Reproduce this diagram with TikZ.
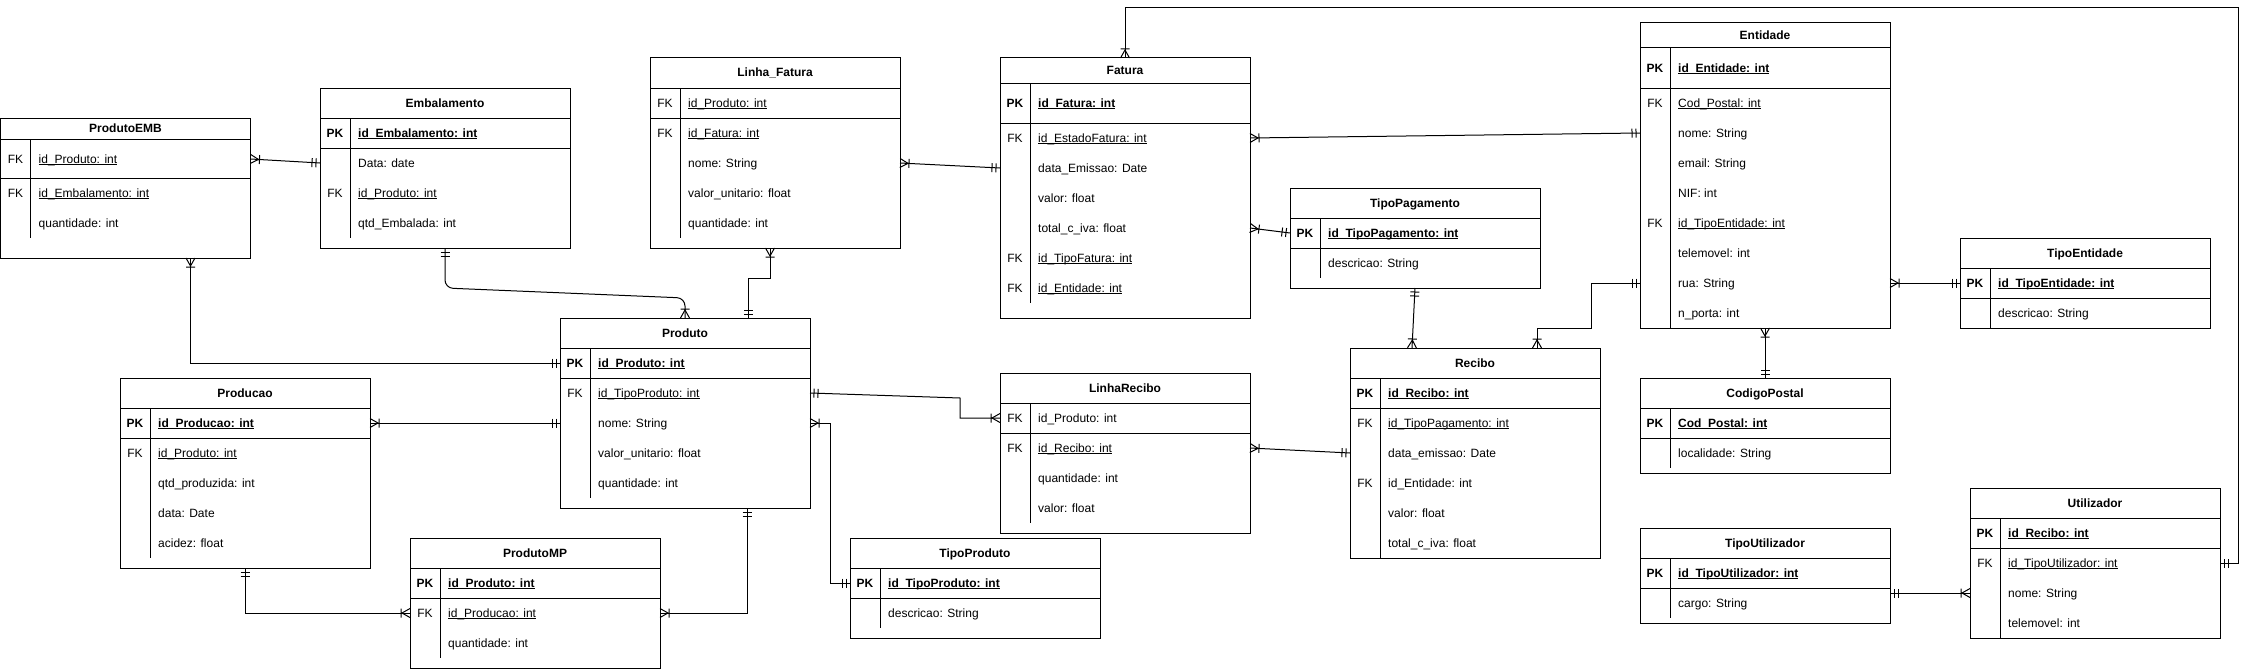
\documentclass[tikz,border=0pt]{standalone}
\usepackage{fontspec}
\setmainfont{Liberation Sans}
\usetikzlibrary{arrows.meta, calc}

% crow's foot notation
\pgfdeclarearrow{
  name = erone,
  setup code = {
    \pgfarrowssettipend{0pt}
    \pgfarrowssetlineend{0pt}
    \pgfarrowssetbackend{-9pt}
    \pgfarrowssetvisualbackend{-9pt}
    \pgfarrowshullpoint{0pt}{5pt}
    \pgfarrowshullpoint{0pt}{-5pt}
    \pgfarrowshullpoint{-9pt}{5pt}
    \pgfarrowshullpoint{-9pt}{-5pt}
  },
  drawing code = {
    \pgfpathmoveto{\pgfqpoint{-4pt}{4.5pt}}
    \pgfpathlineto{\pgfqpoint{-4pt}{-4.5pt}}
    \pgfpathmoveto{\pgfqpoint{-8pt}{4.5pt}}
    \pgfpathlineto{\pgfqpoint{-8pt}{-4.5pt}}
    \pgfusepathqstroke
  }
}
\pgfdeclarearrow{
  name = ermany,
  setup code = {
    \pgfarrowssettipend{0pt}
    \pgfarrowssetlineend{0pt}
    \pgfarrowssetbackend{-10pt}
    \pgfarrowssetvisualbackend{-10pt}
    \pgfarrowshullpoint{0pt}{5pt}
    \pgfarrowshullpoint{0pt}{-5pt}
    \pgfarrowshullpoint{-10pt}{5pt}
    \pgfarrowshullpoint{-10pt}{-5pt}
  },
  drawing code = {
    \pgfpathmoveto{\pgfqpoint{0pt}{4.5pt}}
    \pgfpathlineto{\pgfqpoint{-8pt}{0pt}}
    \pgfpathmoveto{\pgfqpoint{0pt}{-4.5pt}}
    \pgfpathlineto{\pgfqpoint{-8pt}{0pt}}
    \pgfpathmoveto{\pgfqpoint{-9pt}{4.5pt}}
    \pgfpathlineto{\pgfqpoint{-9pt}{-4.5pt}}
    \pgfusepathqstroke
  }
}

\tikzset{
  tbl/.style={draw, fill=white, line width=1pt, minimum width=250pt, anchor=north west, inner sep=0pt, outer sep=0pt},
  ttl/.style={font=\fontsize{12}{14}\selectfont\bfseries, text height=11pt, text depth=3pt, inner sep=0pt},
  keyc/.style={text height=11pt, text depth=3pt, inner sep=0pt},
  fld/.style={anchor=west, text height=11pt, text depth=3pt, inner xsep=8pt, inner ysep=0pt},
  rel/.style={line width=1pt},
}

\newsavebox{\ulbox}
\newcommand{\fkf}[1]{\sbox{\ulbox}{#1}\rlap{\rule[-1.8pt]{\wd\ulbox}{0.8pt}}\usebox{\ulbox}}
\newcommand{\pkf}[1]{\fkf{\bfseries #1}}
% name, x, y, height, title, title line, first row line, divider end, rows
\newcommand{\ertable}[9]{%
  \node[tbl, minimum height=#4pt] (#1) at (#2,#3) {};
  \node[ttl] at (#2+125,#3+#6/2) {#5};
  \draw[rel] (#2,#3+#6) -- ++(250,0) (#2,#3+#7) -- ++(250,0) (#2+30,#3+#6) -- (#2+30,#3+#8);
  \foreach \kk/\ff/\yy [count=\i] in {#9} {
    \node[keyc] at (#2+15,#3+\yy) {\kk};
    \node[fld] (#1-\i) at (#2+30,#3+\yy) {\ff};
  }%
}

\begin{document}
\begin{tikzpicture}[x=1pt, y=-1pt, font=\fontsize{12}{14}\selectfont]
\useasboundingbox (0,0) rectangle (2250,669);

\ertable{produtoemb}{0.5}{118}{140}{ProdutoEMB}{21}{60}{120}{FK/\fkf{id\_Produto: int}/41, FK/\fkf{id\_Embalamento: int}/75, /quantidade: int/105}
\ertable{embalamento}{320}{88}{160}{Embalamento}{30}{60}{150}{\textbf{PK}/\pkf{id\_Embalamento: int}/45, /Data: date/75, FK/\fkf{id\_Produto: int}/105, /qtd\_Embalada: int/135}
\ertable{linhafatura}{650}{58}{190}{Linha\_Fatura}{30}{60}{180}{FK/\fkf{id\_Produto: int}/45, FK/\fkf{id\_Fatura: int}/75, /nome: String/105, /valor\_unitario: float/135, /quantidade: int/165}
\ertable{fatura}{1000}{58}{260}{Fatura}{25}{65}{245}{\textbf{PK}/\pkf{id\_Fatura: int}/45, FK/\fkf{id\_EstadoFatura: int}/80, /data\_Emissao: Date/110, /valor: float/140, /total\_c\_iva: float/170, FK/\fkf{id\_TipoFatura: int}/200, FK/\fkf{id\_Entidade: int}/230}
\ertable{entidade}{1640}{23}{305}{Entidade}{25}{65}{305}{\textbf{PK}/\pkf{id\_Entidade: int}/45, FK/\fkf{Cod\_Postal: int}/80, /nome: String/110, /email: String/140, /NIF: int/170, FK/\fkf{id\_TipoEntidade: int}/200, /telemovel: int/230, /rua: String/260, /n\_porta: int/290}
\ertable{tipopagamento}{1290}{188}{100}{TipoPagamento}{30}{60}{90}{\textbf{PK}/\pkf{id\_TipoPagamento: int}/45, /descricao: String/75}
\ertable{tipoentidade}{1960}{238}{90}{TipoEntidade}{30}{60}{90}{\textbf{PK}/\pkf{id\_TipoEntidade: int}/45, /descricao: String/75}
\ertable{produto}{560}{318}{190}{Produto}{30}{60}{180}{\textbf{PK}/\pkf{id\_Produto: int}/45, FK/\fkf{id\_TipoProduto: int}/75, /nome: String/105, /valor\_unitario: float/135, /quantidade: int/165}
\ertable{producao}{120}{378}{190}{Producao}{30}{60}{180}{\textbf{PK}/\pkf{id\_Producao: int}/45, FK/\fkf{id\_Produto: int}/75, /qtd\_produzida: int/105, /data: Date/135, /acidez: float/165}
\ertable{produtomp}{410}{538}{130}{ProdutoMP}{30}{60}{120}{\textbf{PK}/\pkf{id\_Produto: int}/45, FK/\fkf{id\_Producao: int}/75, /quantidade: int/105}
\ertable{linharecibo}{1000}{373}{160}{LinhaRecibo}{30}{60}{150}{FK/id\_Produto: int/45, FK/\fkf{id\_Recibo: int}/75, /quantidade: int/105, /valor: float/135}
\ertable{tipoproduto}{850}{538}{100}{TipoProduto}{30}{60}{90}{\textbf{PK}/\pkf{id\_TipoProduto: int}/45, /descricao: String/75}
\ertable{recibo}{1350}{348}{210}{Recibo}{30}{60}{210}{\textbf{PK}/\pkf{id\_Recibo: int}/45, FK/\fkf{id\_TipoPagamento: int}/75, /data\_emissao: Date/105, FK/id\_Entidade: int/135, /valor: float/165, /total\_c\_iva: float/195}
\ertable{codigopostal}{1640}{378}{95}{CodigoPostal}{30}{60}{90}{\textbf{PK}/\pkf{Cod\_Postal: int}/45, /localidade: String/75}
\ertable{tipoutilizador}{1640}{528}{95}{TipoUtilizador}{30}{60}{90}{\textbf{PK}/\pkf{id\_TipoUtilizador: int}/45, /cargo: String/75}
\ertable{utilizador}{1970}{488}{150}{Utilizador}{30}{60}{150}{\textbf{PK}/\pkf{id\_Recibo: int}/45, FK/\fkf{id\_TipoUtilizador: int}/75, /nome: String/105, /telemovel: int/135}

\coordinate (ring) at (2238,8);

% relations
\draw[rel, arrows={ermany-erone}] (produtoemb.east |- produtoemb-1) -- (embalamento.west |- embalamento-2);
\draw[rel, arrows={ermany-erone}] ([xshift=65pt]produtoemb.south) |- (produto.west |- produto-1);
\draw[rel, arrows={erone-ermany}, rounded corners=8pt] (embalamento.south) -- ++(0,40) -- ([yshift=20pt]produto.north) -- (produto.north);
\draw[rel, arrows={ermany-erone}] ([xshift=-5pt]linhafatura.south) -- ++(0,30) -| ([xshift=63pt]produto.north);
\draw[rel, arrows={ermany-erone}] (linhafatura.east |- linhafatura-3) -- (fatura.west |- fatura-3);
\draw[rel, arrows={ermany-erone}] (fatura.north) |- (ring) |- (utilizador.east |- utilizador-2);
\draw[rel, arrows={ermany-erone}] (fatura.east |- fatura-2) -- (entidade.west |- entidade-3);
\draw[rel, arrows={ermany-erone}] (fatura.east |- fatura-5) -- (tipopagamento.west |- tipopagamento-1);
\draw[rel, arrows={erone-ermany}] (tipopagamento.south) -- ([xshift=-63pt]recibo.north);
\draw[rel, arrows={ermany-erone}] ([xshift=62pt]recibo.north) -- ++(0,-20) -- ++(54,0) |- (entidade.west |- entidade-8);
\draw[rel, arrows={ermany-erone}] (entidade.east |- entidade-8) -- (tipoentidade.west |- tipoentidade-1);
\draw[rel, arrows={ermany-erone}] (entidade.south) -- (codigopostal.north);
\draw[rel, arrows={erone-ermany}] (tipoutilizador.east |- utilizador-3) -- (utilizador.west |- utilizador-3);
\draw[rel, arrows={erone-ermany}] (produto.east |- produto-2) -- ($(linharecibo.west |- linharecibo-1)+(-40,-20)$) |- (linharecibo.west |- linharecibo-1);
\draw[rel, arrows={ermany-erone}] (produto.east |- produto-3) -- ++(20,0) |- (tipoproduto.west |- tipoproduto-1);
\draw[rel, arrows={ermany-erone}] (producao.east |- producao-1) -- (produto.west |- produto-3);
\draw[rel, arrows={erone-ermany}] (producao.south) |- (produtomp.west |- produtomp-2);
\draw[rel, arrows={erone-ermany}] ([xshift=62pt]produto.south) |- (produtomp.east |- produtomp-2);
\draw[rel, arrows={ermany-erone}] (linharecibo.east |- linharecibo-2) -- (recibo.west |- recibo-3);
\end{tikzpicture}
\end{document}
